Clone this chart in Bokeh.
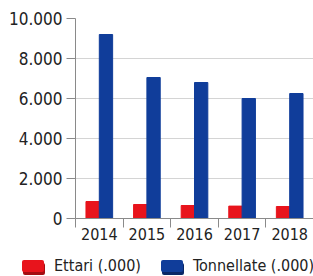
from bokeh.plotting import figure
from bokeh.layouts import column
from bokeh.models import FixedTicker, Range1d, ColumnDataSource, Div
from bokeh.embed import file_html
from bokeh.resources import INLINE

years = ["2014", "2015", "2016", "2017", "2018"]
ettari = [850, 700, 650, 620, 600]
tonnellate = [9200, 7050, 6800, 6000, 6250]
y_ticks = [0, 2000, 4000, 6000, 8000, 10000]
y_labels = ["0", "2.000", "4.000", "6.000", "8.000", "10.000"]
series_names = ["Ettari (.000)", "Tonnellate (.000)"]

RED = "#e8141c"
BLUE = "#103d9a"
RED_DARK = "#a50d12"
BLUE_DARK = "#0a2766"
FONT = "DejaVu Sans Condensed, Roboto"

idx = list(range(len(years)))
src = ColumnDataSource(dict(
    xr=[i + 0.36 for i in idx],
    xb=[i + 0.64 for i in idx],
    ettari=ettari,
    tonnellate=tonnellate,
))

p = figure(frame_width=238, frame_height=200, output_backend="svg", toolbar_location=None,
           x_range=Range1d(0, len(years)), y_range=Range1d(0, 10000),
           min_border_left=75, min_border_right=0, min_border_top=18, min_border_bottom=32)
p.outline_line_color = None

p.vbar(x="xr", top="ettari", width=0.28, source=src, color=RED)
p.vbar(x="xb", top="tonnellate", width=0.28, source=src, color=BLUE)

# y axis
p.yaxis.ticker = FixedTicker(ticks=y_ticks)
p.yaxis.major_label_overrides = {t: l for t, l in zip(y_ticks, y_labels)}
p.yaxis.major_label_text_font = FONT
p.yaxis.major_label_text_font_size = "17px"
p.yaxis.major_label_text_color = "#222222"
p.yaxis.axis_line_color = "#8a8a8a"
p.yaxis.major_tick_line_color = "#8a8a8a"
p.yaxis.major_tick_out = 9
p.yaxis.major_tick_in = 0
p.yaxis.minor_tick_line_color = None
p.yaxis.major_label_standoff = 4

# x axis
p.xaxis.ticker = FixedTicker(ticks=[i + 0.5 for i in idx], minor_ticks=list(range(len(years) + 1)))
p.xaxis.major_label_overrides = {i + 0.5: y for i, y in zip(idx, years)}
p.xaxis.major_label_text_font = FONT
p.xaxis.major_label_text_font_size = "16px"
p.xaxis.major_label_text_color = "#222222"
p.xaxis.axis_line_color = "#8a8a8a"
p.xaxis.major_tick_line_color = None
p.xaxis.major_tick_out = 0
p.xaxis.major_tick_in = 0
p.xaxis.minor_tick_line_color = "#8a8a8a"
p.xaxis.minor_tick_out = 9
p.xaxis.minor_tick_in = 0
p.xaxis.major_label_standoff = 0

p.xgrid.grid_line_color = None
p.ygrid.ticker = FixedTicker(ticks=y_ticks)
p.ygrid.grid_line_color = "#d4d4d4"

# legend strip below the chart (HTML text)
def key(color, dark, label, gap_left):
    return (
        f'<span style="display:inline-block;width:22px;height:12px;background:{color};'
        f'box-shadow:1px 3px 0 {dark};border-radius:2px;margin-left:{gap_left}px;'
        f'margin-right:10px;vertical-align:middle;"></span>'
        f'<span style="vertical-align:middle;">{label}</span>'
    )

html = (
    f'<div style="width:313px;height:30px;line-height:30px;white-space:nowrap;'
    f'font-family:\'DejaVu Sans Condensed\', Roboto, sans-serif;font-size:16px;color:#222222;">'
    + key(RED, RED_DARK, series_names[0], 22)
    + key(BLUE, BLUE_DARK, series_names[1], 20)
    + '</div>'
)
legend_div = Div(text=html, width=313, height=30, margin=(0, 0, 0, 0))

layout = column(p, legend_div, spacing=0)
open("out.html", "w").write(file_html(layout, INLINE))
